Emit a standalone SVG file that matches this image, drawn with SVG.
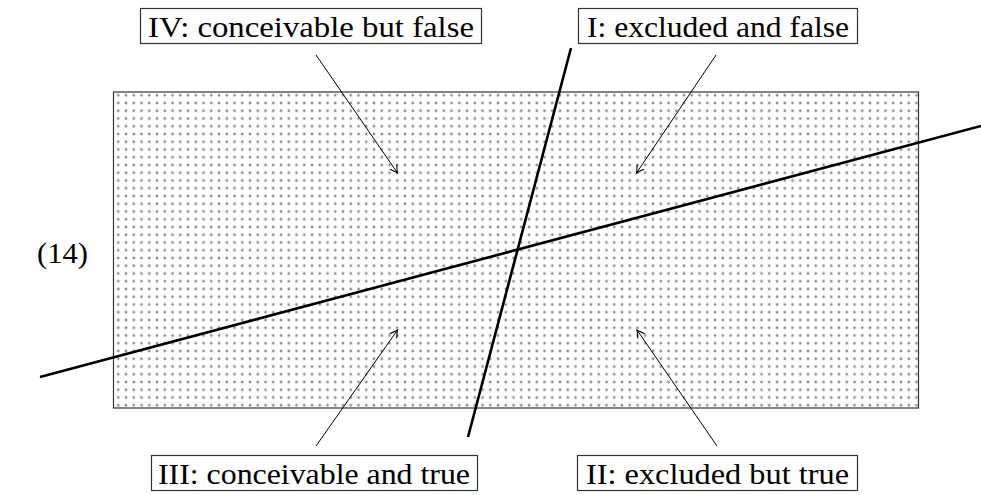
<svg xmlns="http://www.w3.org/2000/svg" width="981" height="495" viewBox="0 0 981 495">
<style>
.lbl{font-family:"Liberation Serif","DejaVu Serif",serif;font-size:30px;fill:#000}
.box{fill:#fff;stroke:#333;stroke-width:1.2}
.arr{stroke:#000;stroke-width:1;fill:none;marker-end:url(#to)}
.big{stroke:#000;stroke-width:2.6;fill:none}
</style>
<defs>
<pattern id="dots" patternUnits="userSpaceOnUse" x="114.4" y="91.4" width="7.75" height="7.75">
<circle cx="3.875" cy="3.875" r="1.4" fill="#8e8e8e"/>
</pattern>
<marker id="to" viewBox="-8 -5 10 10" markerWidth="10" markerHeight="10" refX="0" refY="0" orient="auto" markerUnits="userSpaceOnUse">
<path d="M-7,-4 Q-2,-0.8 0,0 Q-2,0.8 -7,4" fill="none" stroke="#000" stroke-width="1.1" stroke-linecap="round"/>
</marker>
</defs>
<g id="field">
<rect x="113.5" y="92" width="805" height="316" fill="url(#dots)" stroke="#333" stroke-width="1.2"/>
</g>
<g id="connectors">
<line class="big" x1="40" y1="377" x2="981" y2="126"/>
<line class="big" x1="468" y1="437" x2="571" y2="48"/>
<line class="arr" x1="316" y1="55" x2="397.5" y2="173"/>
<line class="arr" x1="716" y1="55" x2="636.5" y2="173"/>
<line class="arr" x1="316" y1="446" x2="397.5" y2="330"/>
<line class="arr" x1="717" y1="446" x2="637" y2="330"/>
</g>
<g id="n-iv">
<rect class="box" x="140.5" y="8.5" width="341" height="35"/>
<text class="lbl" x="148" y="37" textLength="326" lengthAdjust="spacingAndGlyphs">IV: conceivable but false</text>
</g>
<g id="n-i">
<rect class="box" x="578.5" y="8.5" width="279" height="35"/>
<text class="lbl" x="587" y="37" textLength="262" lengthAdjust="spacingAndGlyphs">I: excluded and false</text>
</g>
<g id="n-iii">
<rect class="box" x="151.5" y="455.5" width="326" height="35"/>
<text class="lbl" x="158" y="484" textLength="312" lengthAdjust="spacingAndGlyphs">III: conceivable and true</text>
</g>
<g id="n-ii">
<rect class="box" x="577.5" y="455.5" width="280" height="35"/>
<text class="lbl" x="586" y="484" textLength="263" lengthAdjust="spacingAndGlyphs">II: excluded but true</text>
</g>
<g id="eqnum">
<text class="lbl" x="37" y="263" textLength="51" lengthAdjust="spacingAndGlyphs">(14)</text>
</g>
</svg>
